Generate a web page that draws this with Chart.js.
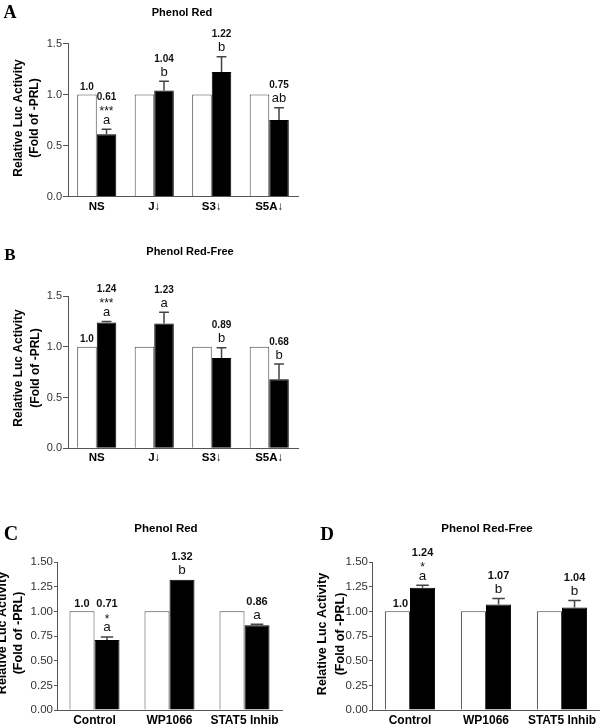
<!DOCTYPE html>
<html>
<head>
<meta charset="utf-8">
<script src="https://cdn.jsdelivr.net/npm/chart.js@4"></script>
<style>
  body { margin: 0; background: #fff; width: 600px; height: 725px; position: relative; overflow: hidden; }
  canvas { position: absolute; }
</style>
</head>
<body>
<canvas id="panelA" width="300" height="240" style="left:0;top:0"></canvas>
<canvas id="panelB" width="300" height="240" style="left:0;top:240px"></canvas>
<canvas id="panelC" width="300" height="235" style="left:0;top:490px"></canvas>
<canvas id="panelD" width="300" height="235" style="left:300px;top:490px"></canvas>
<script>
// knockdown panels (A, B)
const knockdownLabels = ["NS", "J\u2193", "S3\u2193", "S5A\u2193"];
// inhibitor panels (C, D)
const inhibitorLabels = ["Control", "WP1066", "STAT5 Inhib"];

const noPrlA = [1.0, 1.0, 1.0, 1.0];
const prlA = [0.61, 1.04, 1.22, 0.75];
const errA = [0.05, 0.09, 0.15, 0.12];
const lettersA = ["a", "b", "b", "ab"];
const starsA = ["***", "", "", ""];

const noPrlB = [1.0, 1.0, 1.0, 1.0];
const prlB = [1.24, 1.23, 0.89, 0.68];
const errB = [0.01, 0.11, 0.10, 0.15];
const lettersB = ["a", "a", "b", "b"];
const starsB = ["***", "", "", ""];

const noPrlC = [1.0, 1.0, 1.0];
const prlC = [0.71, 1.32, 0.86];
const errC = [0.03, 0, 0.01];
const lettersC = ["a", "b", "a"];
const starsC = ["*", "", ""];

const noPrlD = [1.0, 1.0, 1.0];
const prlD = [1.24, 1.07, 1.04];
const errD = [0.025, 0.06, 0.07];
const lettersD = ["a", "b", "b"];
const starsD = ["*", "", ""];

const yTicksAB = [0, 0.5, 1.0, 1.5];
const yTicksCD = [0, 0.25, 0.5, 0.75, 1.0, 1.25, 1.5];
const yTitle = ["Relative Luc Activity", "(Fold of -PRL)"];

const SANS = '"Liberation Sans", Arial, Helvetica, sans-serif';
const SERIF = '"Liberation Serif", "Times New Roman", serif';
const AXIS = "#555";

// error bars (upper only) + value / letter / star labels above bars
const barLabels = {
  id: "barLabels",
  afterDatasetsDraw(chart, args, o) {
    const ctx = chart.ctx, y = chart.scales.y;
    const ctrlBars = chart.getDatasetMeta(0).data;
    const prlBars = chart.getDatasetMeta(1).data;
    const ctrl = chart.data.datasets[0].data;
    const vals = chart.data.datasets[1].data;
    ctx.save();
    ctx.textAlign = "center";
    ctx.textBaseline = "alphabetic";
    prlBars.forEach((bar, i) => {
      const err = o.err[i];
      const top = y.getPixelForValue(vals[i] + err);
      if (err > 0) {
        const half = bar.width * 0.25;
        ctx.strokeStyle = "#444";
        ctx.lineWidth = 1.5;
        ctx.beginPath();
        ctx.moveTo(bar.x, bar.y);
        ctx.lineTo(bar.x, top);
        ctx.moveTo(bar.x - half, top);
        ctx.lineTo(bar.x + half, top);
        ctx.stroke();
      }
      ctx.fillStyle = "#111";
      let yy = top - 5.5;
      ctx.font = `${o.letterSize}px ${SANS}`;
      ctx.fillText(o.letters[i], bar.x, yy);
      if (o.stars[i]) {
        yy -= 8.5;
        ctx.font = `12px ${SANS}`;
        ctx.fillText(o.stars[i], bar.x, yy);
        yy -= 15.5;
      } else {
        yy -= 14;
      }
      ctx.font = `bold ${o.valueSize}px ${SANS}`;
      ctx.fillText(vals[i].toFixed(2), bar.x, yy);
    });
    ctx.font = `bold ${o.valueSize}px ${SANS}`;
    ctx.fillText(ctrl[0].toFixed(1), ctrlBars[0].x + o.refShift, y.getPixelForValue(ctrl[0]) - 4.5);
    ctx.restore();
  }
};

// panel letter, title, two-line y title
const panelText = {
  id: "panelText",
  afterDraw(chart, args, o) {
    const ctx = chart.ctx;
    ctx.save();
    ctx.fillStyle = "#000";
    ctx.textAlign = "center";
    ctx.textBaseline = "middle";
    ctx.font = `bold ${o.letterSize}px ${SERIF}`;
    ctx.fillText(o.letter, o.letterX, o.letterY);
    ctx.font = `bold ${o.titleSize}px ${SANS}`;
    ctx.fillText(o.title, o.titleX, o.titleY);
    ctx.font = `bold ${o.yTitleSize}px ${SANS}`;
    yTitle.forEach((line, k) => {
      ctx.save();
      ctx.translate(o.yTitleX[k], o.yTitleY);
      ctx.rotate(-Math.PI / 2);
      ctx.fillText(line, 0, 0);
      ctx.restore();
    });
    ctx.restore();
  }
};

function makePanel(id, p) {
  const canvas = document.getElementById(id);
  const H = canvas.height;
  new Chart(canvas, {
    type: "bar",
    data: {
      labels: p.labels,
      datasets: [
        { label: "-PRL", data: p.noPrl, backgroundColor: "#fff", borderColor: "#444", borderWidth: 1 },
        { label: "+PRL", data: p.prl, backgroundColor: "#000", borderColor: "#000", borderWidth: 1 }
      ]
    },
    options: {
      responsive: false,
      animation: false,
      layout: { padding: { top: p.area.top, right: p.area.right, left: 0, bottom: 0 } },
      datasets: { bar: { categoryPercentage: p.catPct, barPercentage: 1 } },
      plugins: {
        legend: { display: false },
        tooltip: { enabled: false },
        barLabels: p.marks,
        panelText: p.text
      },
      scales: {
        x: {
          grid: { display: false, drawTicks: false },
          border: { color: AXIS, width: 1 },
          ticks: { color: "#000", padding: 3, font: { family: SANS, size: p.xFont, weight: "bold" } },
          afterFit: (s) => { s.height = H - p.area.bottom; }
        },
        y: {
          min: 0,
          max: 1.5,
          afterBuildTicks: (s) => { s.ticks = p.yTicks.map(v => ({ value: v })); },
          grid: { drawOnChartArea: false, tickLength: p.tickLen, color: AXIS },
          border: { color: AXIS, width: 1 },
          ticks: {
            color: "#333",
            padding: 1,
            font: { family: SANS, size: p.yFont },
            callback: (v) => Number(v).toFixed(p.digits)
          },
          afterFit: (s) => { s.width = p.area.left; }
        }
      }
    },
    plugins: [barLabels, panelText]
  });
}

makePanel("panelA", {
  labels: knockdownLabels, noPrl: noPrlA, prl: prlA, yTicks: yTicksAB, digits: 1,
  area: { left: 68, top: 43.5, right: 2, bottom: 196.5 }, catPct: 0.68,
  xFont: 11.5, yFont: 11, tickLen: 5,
  marks: { err: errA, letters: lettersA, stars: starsA, letterSize: 13, valueSize: 10, refShift: 0 },
  text: { letter: "A", letterSize: 18, letterX: 10, letterY: 13.5, title: "Phenol Red", titleSize: 11,
          titleX: 182, titleY: 13, yTitleSize: 12, yTitleX: [19, 35], yTitleY: 118 }
});

makePanel("panelB", {
  labels: knockdownLabels, noPrl: noPrlB, prl: prlB, yTicks: yTicksAB, digits: 1,
  area: { left: 68, top: 56, right: 2, bottom: 208.3 }, catPct: 0.68,
  xFont: 11.5, yFont: 11, tickLen: 5,
  marks: { err: errB, letters: lettersB, stars: starsB, letterSize: 13, valueSize: 10, refShift: 0 },
  text: { letter: "B", letterSize: 17, letterX: 10, letterY: 15.5, title: "Phenol Red-Free", titleSize: 11,
          titleX: 190, titleY: 12, yTitleSize: 12, yTitleX: [19, 36], yTitleY: 128 }
});

makePanel("panelC", {
  labels: inhibitorLabels, noPrl: noPrlC, prl: prlC, yTicks: yTicksCD, digits: 2,
  area: { left: 57, top: 72, right: 18, bottom: 220 }, catPct: 0.667,
  xFont: 12, yFont: 11.5, tickLen: 3,
  marks: { err: errC, letters: lettersC, stars: starsC, letterSize: 13.5, valueSize: 11, refShift: 0 },
  text: { letter: "C", letterSize: 20, letterX: 11, letterY: 45, title: "Phenol Red", titleSize: 11.5,
          titleX: 166, titleY: 39, yTitleSize: 12.5, yTitleX: [3, 19], yTitleY: 143 }
});

makePanel("panelD", {
  labels: inhibitorLabels, noPrl: noPrlD, prl: prlD, yTicks: yTicksCD, digits: 2,
  area: { left: 72, top: 72, right: 0, bottom: 220 }, catPct: 0.66,
  xFont: 12, yFont: 11.5, tickLen: 3,
  marks: { err: errD, letters: lettersD, stars: starsD, letterSize: 13.5, valueSize: 11, refShift: 3 },
  text: { letter: "D", letterSize: 19, letterX: 27, letterY: 45, title: "Phenol Red-Free", titleSize: 11.5,
          titleX: 187, titleY: 39, yTitleSize: 12.5, yTitleX: [23, 41], yTitleY: 144 }
});
</script>
</body>
</html>
